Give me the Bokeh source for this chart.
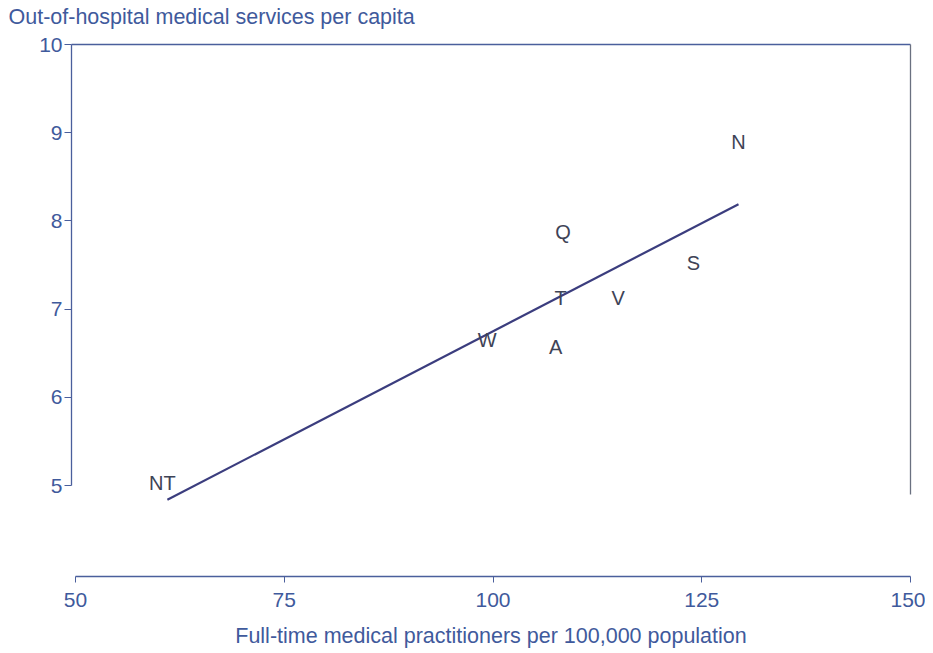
from bokeh.plotting import figure
from bokeh.models import ColumnDataSource, LinearAxis, FixedTicker, Range1d
from bokeh.core.properties import value
from bokeh.embed import file_html
from bokeh.resources import INLINE

# Data
states = ["NT", "W", "T", "Q", "A", "V", "S", "N"]
practitioners = [60.4, 99.3, 108.1, 108.4, 107.5, 115.0, 124.0, 129.4]
services = [5.03, 6.65, 7.13, 7.87, 6.57, 7.13, 7.52, 8.90]
fit_x = [61.0, 129.4]
fit_y = [4.84, 8.19]
x_ticks = [50, 75, 100, 125, 150]
y_ticks = [5, 6, 7, 8, 9, 10]
y_title = "Out-of-hospital medical services per capita"
x_title = "Full-time medical practitioners per 100,000 population"

AXIS_COL = "#4a5f9c"
TEXT_COL = "#3f5a9c"
LINE_COL = "#3b3d7e"
LETTER_COL = "#3e4356"
FONT = "Liberation Sans"
FS = "21px"

p = figure(width=925, height=651, output_backend="svg", toolbar_location=None,
           x_range=Range1d(49.52, 150.0), y_range=Range1d(3.97, 10.0),
           x_axis_location=None, y_axis_location=None,
           min_border_left=71, min_border_right=15, min_border_top=0, min_border_bottom=75)
p.outline_line_color = None
p.grid.visible = False
p.background_fill_color = "white"
p.border_fill_color = "white"

p.title.text = y_title
p.title.align = "left"
p.title.vertical_align = "top"
p.title.offset = -63
p.title.text_font = FONT
p.title.text_font_size = "21.5px"
p.title.text_font_style = "normal"
p.title.text_color = TEXT_COL
p.title.standoff = 9

def style(ax):
    ax.axis_line_color = AXIS_COL
    ax.axis_line_width = 1.3
    ax.major_tick_line_color = AXIS_COL
    ax.minor_tick_line_color = None
    ax.major_label_text_font = FONT
    ax.major_label_text_font_size = FS
    ax.major_label_text_color = TEXT_COL
    ax.axis_label_text_font = FONT
    ax.axis_label_text_font_size = "21.5px"
    ax.axis_label_text_font_style = "normal"
    ax.axis_label_text_color = TEXT_COL

yax = LinearAxis(ticker=FixedTicker(ticks=y_ticks), bounds=(5, 10))
style(yax)
yax.major_tick_out = 7
yax.major_tick_in = 0
yax.major_label_standoff = 2
p.add_layout(yax, "left")

xax = LinearAxis(ticker=FixedTicker(ticks=x_ticks), bounds=(50, 150), axis_label=x_title)
style(xax)
xax.major_tick_out = 6
xax.major_tick_in = 0
xax.major_label_standoff = 10
xax.axis_label_standoff = 14
p.add_layout(xax, "below")

# top border line; its (blank) label only reserves the gap under the title
top = LinearAxis(ticker=FixedTicker(ticks=[]), axis_label=" ")
style(top)
top.major_label_text_font_size = "0px"
top.major_label_standoff = 0
top.major_tick_out = 0
top.major_tick_in = 0
top.axis_label_text_font_size = "1px"
top.axis_label_standoff = 5
p.add_layout(top, "above")

right = LinearAxis(ticker=FixedTicker(ticks=[]), bounds=(4.9, 10))
style(right)
right.axis_line_color = "#6a7080"
right.major_label_text_font_size = "0px"
right.major_tick_out = 0
right.major_tick_in = 0
p.add_layout(right, "right")

p.line(fit_x, fit_y, line_color=LINE_COL, line_width=2.2)

src = ColumnDataSource(dict(x=practitioners, y=services, label=states))
p.text(x="x", y="y", text="label", source=src, text_align="center", text_baseline="middle",
       text_font=value(FONT), text_font_size="20px", text_color=LETTER_COL)

open("out.html", "w").write(file_html(p, INLINE))
